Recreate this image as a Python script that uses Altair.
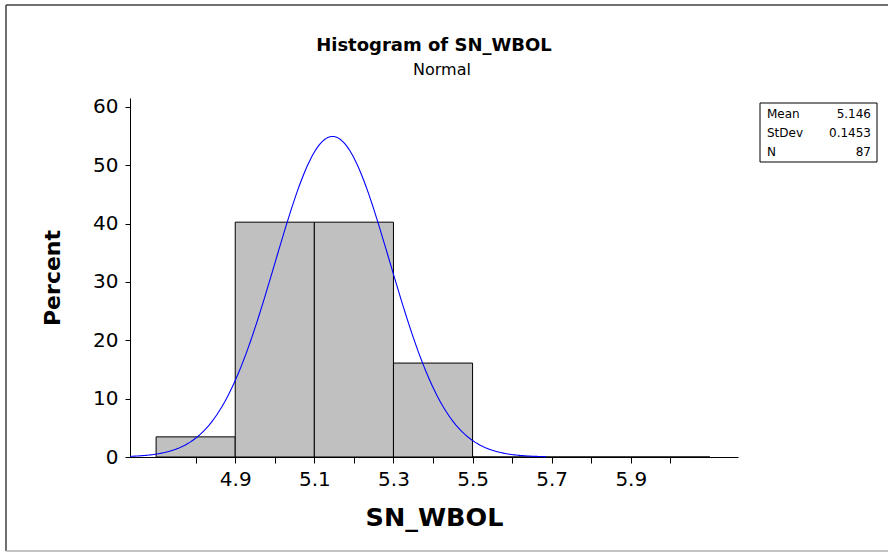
import altair as alt
import pandas as pd

# ---- data ----
bin_start = [4.7, 4.9, 5.1, 5.3, 5.5, 5.7, 5.9]
bin_end = [4.9, 5.1, 5.3, 5.5, 5.7, 5.9, 6.1]
percent = [3.448, 40.230, 40.230, 16.092, 0.0, 0.0, 0.0]

mean = 5.146
stdev = 0.1453
n_obs = 87
bin_width = 0.2

stat_names = ["Mean", "StDev", "N"]
stat_values = ["5.146", "0.1453", "87"]

x_ticks = [4.8, 4.9, 5.0, 5.1, 5.2, 5.3, 5.4, 5.5, 5.6, 5.7, 5.8, 5.9, 6.0]
x_labels = ["4.9", "5.1", "5.3", "5.5", "5.7", "5.9"]
y_ticks = [0, 5, 10, 15, 20, 25, 30, 35, 40, 45, 50, 55, 60]

x_domain = [4.634, 6.171]
y_domain = [0, 61.5]

title_text = "Histogram of SN_WBOL"
subtitle_text = "Normal"

FONT = "DejaVu Sans"
W, H = 608, 359
PAD_L, PAD_T = 130, 98

bars_df = pd.DataFrame({"start": bin_start, "end": bin_end, "pct": percent})
stats_df = pd.DataFrame({"stat": stat_names, "value": stat_values})
one_df = pd.DataFrame({"title": [title_text], "subtitle": [subtitle_text]})

label_list = "[" + ",".join("'" + s + "'" for s in x_labels) + "]"
x_axis = alt.Axis(
    values=x_ticks,
    labelExpr=f"indexof({label_list}, format(datum.value, '.1f')) >= 0 ? format(datum.value, '.1f') : ''",
    title="SN_WBOL",
    titleFont=FONT, titleFontSize=25.5, titleFontWeight="bold", titleColor="black",
    titlePadding=16,
    labelFont=FONT, labelFontSize=20, labelColor="black", labelPadding=6,
    labelFlush=False, labelOverlap=False,
    tickSize=6, tickColor="black", domainColor="black", grid=False,
)
y_axis = alt.Axis(
    values=y_ticks,
    labelExpr="datum.value % 10 == 0 ? datum.label : ''",
    title="Percent",
    titleFont=FONT, titleFontSize=22, titleFontWeight="bold", titleColor="black",
    titlePadding=28,
    labelFont=FONT, labelFontSize=20, labelColor="black", labelPadding=7,
    labelOverlap=False,
    tickSize=5, tickColor="black", domainColor="black", grid=False,
)

xs = alt.Scale(domain=x_domain, nice=False, zero=False)
ys = alt.Scale(domain=y_domain, nice=False)

bars = alt.Chart(bars_df).mark_bar(
    fill="#c0c0c0", stroke="black", strokeWidth=1, opacity=1
).encode(
    x=alt.X("start:Q", scale=xs, axis=x_axis),
    x2="end:Q",
    y=alt.Y("pct:Q", scale=ys, axis=y_axis),
    y2=alt.datum(0),
)

scale_factor = 100 * bin_width
curve = alt.Chart(alt.sequence(start=x_domain[0], stop=5.69, step=0.004, as_="x")).transform_calculate(
    y=f"{scale_factor} / ({stdev} * sqrt(2 * PI)) * exp(-0.5 * pow((datum.x - {mean}) / {stdev}, 2))"
).mark_line(color="#0000ff", strokeWidth=1.1).encode(
    x=alt.X("x:Q", scale=xs),
    y=alt.Y("y:Q", scale=ys),
)

main = alt.layer(bars, curve)

# stats box
box = alt.Chart(one_df).mark_rect(fill="white", stroke="black", strokeWidth=1).encode(
    x=alt.value(760 - PAD_L), x2=alt.value(877 - PAD_L),
    y=alt.value(103 - PAD_T), y2=alt.value(162 - PAD_T),
)
row_scale = alt.Scale(domain=stat_names, range=[114 - PAD_T, 152 - PAD_T], padding=0)
stat_lbl = alt.Chart(stats_df).mark_text(
    font=FONT, fontSize=12, align="left", baseline="middle", color="black"
).encode(
    x=alt.value(767 - PAD_L),
    y=alt.Y("stat:O", scale=row_scale, axis=None, sort=stat_names),
    text="stat:N",
)
stat_val = alt.Chart(stats_df).mark_text(
    font=FONT, fontSize=12, align="right", baseline="middle", color="black"
).encode(
    x=alt.value(871 - PAD_L),
    y=alt.Y("stat:O", scale=row_scale, axis=None, sort=stat_names),
    text="value:N",
)
stats = alt.layer(stat_lbl, stat_val)

# titles
title_mark = alt.Chart(one_df).mark_text(
    font=FONT, fontSize=18, fontWeight="bold", color="black", align="center", baseline="middle"
).encode(x=alt.value(W / 2), y=alt.value(46 - PAD_T), text="title:N")
subtitle_mark = alt.Chart(one_df).mark_text(
    font=FONT, fontSize=16, color="black", align="center", baseline="middle"
).encode(x=alt.value(W / 2 + 8), y=alt.value(70 - PAD_T), text="subtitle:N")

# outer frame
frame_left = alt.Chart(one_df).mark_rule(color="#404040", strokeWidth=1.5).encode(
    x=alt.value(6 - PAD_L), y=alt.value(5 - PAD_T), y2=alt.value(551 - PAD_T))
frame_top = alt.Chart(one_df).mark_rule(color="#404040", strokeWidth=1.5).encode(
    x=alt.value(6 - PAD_L), x2=alt.value(888 - PAD_L), y=alt.value(5 - PAD_T))
frame_bottom = alt.Chart(one_df).mark_rule(color="#b0b0b0", strokeWidth=1.5).encode(
    x=alt.value(6 - PAD_L), x2=alt.value(888 - PAD_L), y=alt.value(551 - PAD_T))

chart = alt.layer(
    main, box, stats, title_mark, subtitle_mark, frame_left, frame_top, frame_bottom
).resolve_scale(y="independent").properties(
    width=W, height=H,
    autosize=alt.AutoSizeParams(type="none"),
    padding={"left": PAD_L, "top": PAD_T, "right": 888 - PAD_L - W, "bottom": 553 - PAD_T - H},
    background="white",
).configure_view(stroke=None)

chart.save("out.html", embed_options={"renderer": "svg", "actions": False})
